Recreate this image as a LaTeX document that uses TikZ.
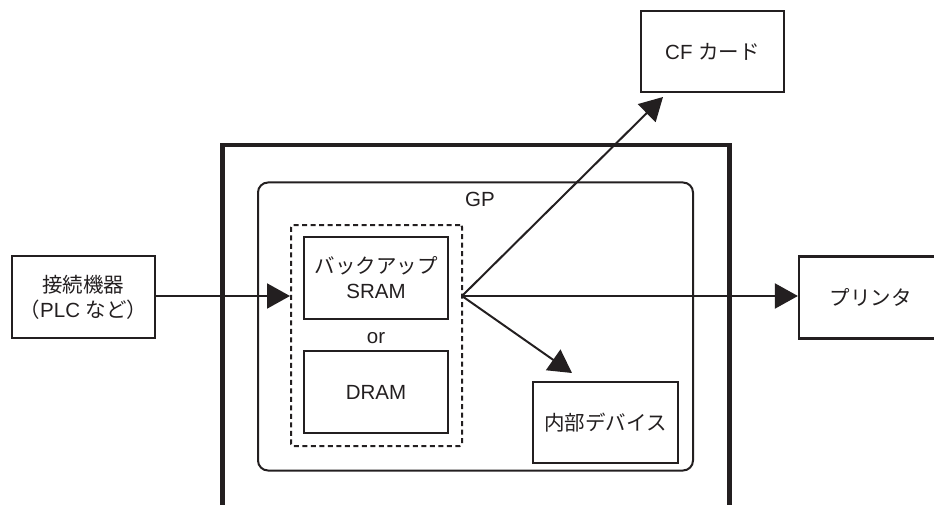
\documentclass[tikz,border=0pt]{standalone}
\usepackage{fontspec}
\setmainfont{Liberation Sans}
\newfontfamily\jp{Noto Sans CJK JP}
\usetikzlibrary{arrows.meta}
\definecolor{ink}{HTML}{231F20}
\begin{document}
\begin{tikzpicture}[x=1pt,y=-1pt,
  every node/.style={font=\fontsize{20.5}{25}\selectfont, text=ink},
  box/.style={draw=ink, line width=2.2pt, inner sep=0pt, align=center,
              minimum width=143pt, minimum height=82pt},
  arr/.style={draw=ink, line width=2pt, -{Triangle[length=23pt,width=25pt]}}]
\useasboundingbox (0,0) rectangle (934,505);
\clip (0,0) rectangle (934,505);
% outer thick frame (open at bottom)
\draw[ink, line width=4.6pt] (222.5,505) -- (222.5,145) -- (729.5,145) -- (729.5,505);
% GP rounded box
\node[draw=ink, line width=2pt, rounded corners=10pt, minimum width=435pt,
      minimum height=288pt, inner sep=0pt] (gp) at (475.5,326.5) {};
\node (gpl) at (480,199) {GP};
% dashed group
\node[draw=ink, line width=2pt, dash pattern=on 5pt off 3.5pt, rounded corners=2pt,
      minimum width=171pt, minimum height=221pt, inner sep=0pt] (grp) at (376.5,335.5) {};
\node[box, minimum width=144pt] (sram) at (376,278) {{\jp バックアップ}\\SRAM};
\node (or) at (376,338) {or};
\node[box, minimum width=144pt] (dram) at (376,392) {DRAM};
% other boxes
\node[box] (conn) at (83.5,297) {{\jp 接続機器}\\{\jp （}PLC {\jp など）}};
\node[box, minimum height=81pt] (cf) at (712.5,51.5) {CF {\jp カード}};
\node[box] (prn) at (870.5,297.5) {{\jp プリンタ}};
\node[box, minimum width=145pt, minimum height=81pt] (dev) at (605.5,422.5) {{\jp 内部デバイス}};
% connectors
\coordinate (o) at (462,296);
\coordinate (cft) at (663,97);
\coordinate (devt) at (572,373);
\draw[arr] (conn.east |- o) -- (grp.west |- o);
\draw[arr] (o) -- (prn.west |- o);
\draw[arr] (o) -- (cft);
\draw[arr] (o) -- (devt);
\end{tikzpicture}
\end{document}
